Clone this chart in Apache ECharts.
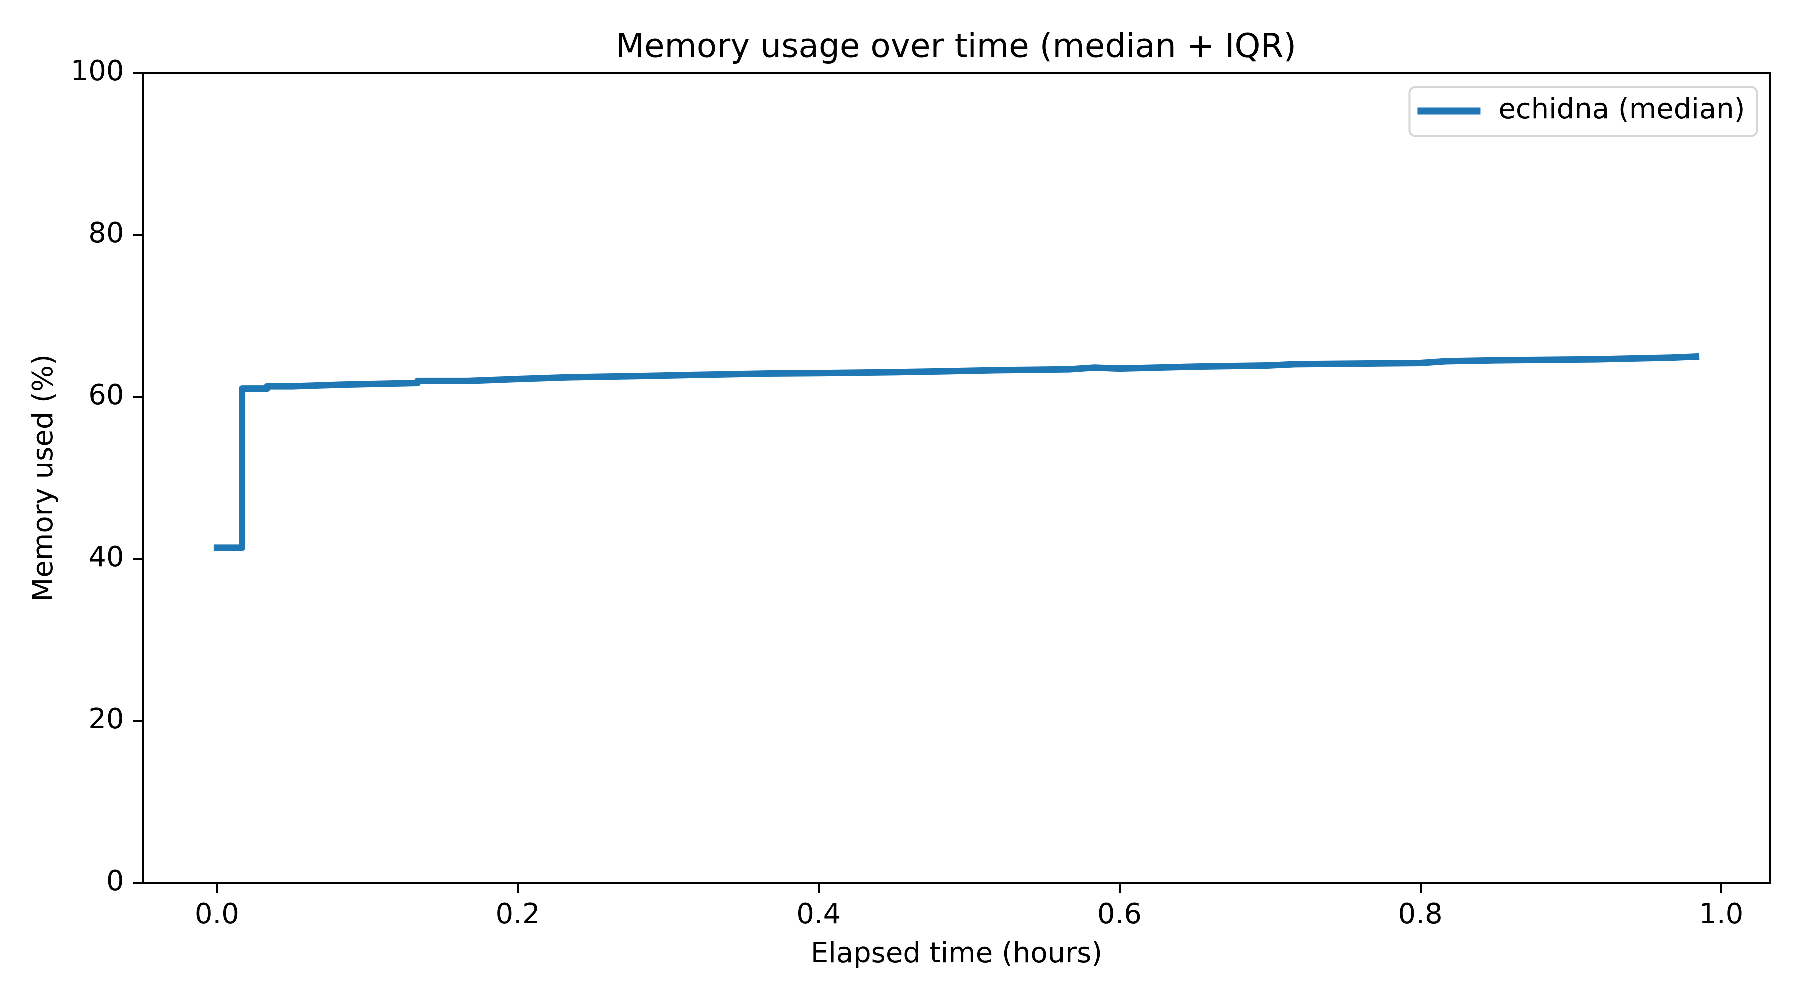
<!DOCTYPE html>
<html>
<head>
<meta charset="utf-8">
<script src="https://cdn.jsdelivr.net/npm/echarts@6/dist/echarts.min.js"></script>
<style>html,body{margin:0;padding:0;background:#fff}#c{width:1800px;height:1000px}</style>
</head>
<body>
<div id="c"></div>
<script>
// elapsed minutes at which the median value changes (last entry = end of data)
const changeMinutes = [0, 1, 2, 3, 5, 8, 10, 12, 14, 17, 19, 22, 24, 27, 29, 31, 34, 35, 36, 39, 42, 43, 48, 49, 51, 55, 58, 59];
const medianValues  = [41.4, 61.04, 61.32, 61.53, 61.73, 61.98, 62.22, 62.43, 62.59, 62.72, 62.9, 62.95, 63.06, 63.17, 63.3, 63.42, 63.63, 63.51, 63.75, 63.9, 64.05, 64.2, 64.41, 64.53, 64.65, 64.86, 64.99, 64.99];
const xTicks = [0, 0.2, 0.4, 0.6, 0.8, 1.0];
const yTicks = [0, 20, 40, 60, 80, 100];

// step ("post") path vertices built from the data arrays
const seriesData = [];
for (let i = 0; i < changeMinutes.length; i++) {
  const x = changeMinutes[i] / 60;
  if (i > 0) seriesData.push([x, medianValues[i - 1]]);
  seriesData.push([x, medianValues[i]]);
}
const xMaxData = changeMinutes[changeMinutes.length - 1] / 60;
const margin = xMaxData * 0.05;

const font = "DejaVu Sans";
// high pixel ratio so that tiny (1-2 px) step risers are not dropped by the path simplifier
const chart = echarts.init(document.getElementById('c'), null, {renderer: 'canvas', devicePixelRatio: 4});
chart.setOption({
  animation: false,
  backgroundColor: '#ffffff',
  title: {
    text: 'Memory usage over time (median + IQR)',
    left: 956, top: 32, textAlign: 'center', padding: 0,
    textStyle: {fontFamily: font, fontSize: 33, fontWeight: 'normal', color: '#000'}
  },
  legend: {
    right: 43, top: 87, orient: 'vertical',
    padding: [10, 12, 11, 8],
    borderColor: '#d6d6d6', borderWidth: 2, borderRadius: 6,
    backgroundColor: 'rgba(255,255,255,0.8)',
    icon: 'rect', itemWidth: 63, itemHeight: 7,
    textStyle: {fontFamily: font, fontSize: 28, color: '#000', padding: [2, 0, 0, 13]},
    data: ['echidna (median)']
  },
  grid: {left: 143, right: 30, top: 73, bottom: 117, show: true, borderColor: '#000', borderWidth: 2, backgroundColor: 'transparent'},
  xAxis: {
    type: 'value', min: -margin, max: xMaxData + margin,
    name: 'Elapsed time (hours)', nameLocation: 'middle', nameGap: 58,
    nameTextStyle: {fontFamily: font, fontSize: 28, color: '#000'},
    axisLine: {show: true, onZero: false, lineStyle: {color: '#000', width: 2}},
    axisTick: {show: true, length: 10, lineStyle: {color: '#000', width: 2}, customValues: xTicks},
    axisLabel: {margin: 19, fontFamily: font, fontSize: 28, color: '#000', customValues: xTicks, formatter: v => v.toFixed(1)},
    splitLine: {show: false}
  },
  yAxis: {
    type: 'value', min: 0, max: 100, interval: 20,
    name: 'Memory used (%)', nameLocation: 'middle', nameGap: 84,
    nameTextStyle: {fontFamily: font, fontSize: 28, color: '#000'},
    axisLine: {show: true, onZero: false, lineStyle: {color: '#000', width: 2}},
    axisTick: {show: true, length: 10, lineStyle: {color: '#000', width: 2}, customValues: yTicks},
    axisLabel: {margin: 19, fontFamily: font, fontSize: 28, color: '#000', customValues: yTicks},
    splitLine: {show: false}
  },
  series: [{
    name: 'echidna (median)', type: 'line',
    data: seriesData, showSymbol: false, symbol: 'none',
    lineStyle: {color: '#1f77b4', width: 6.5, join: 'round', cap: 'square'},
    itemStyle: {color: '#1f77b4'}
  }]
});
</script>
</body>
</html>
